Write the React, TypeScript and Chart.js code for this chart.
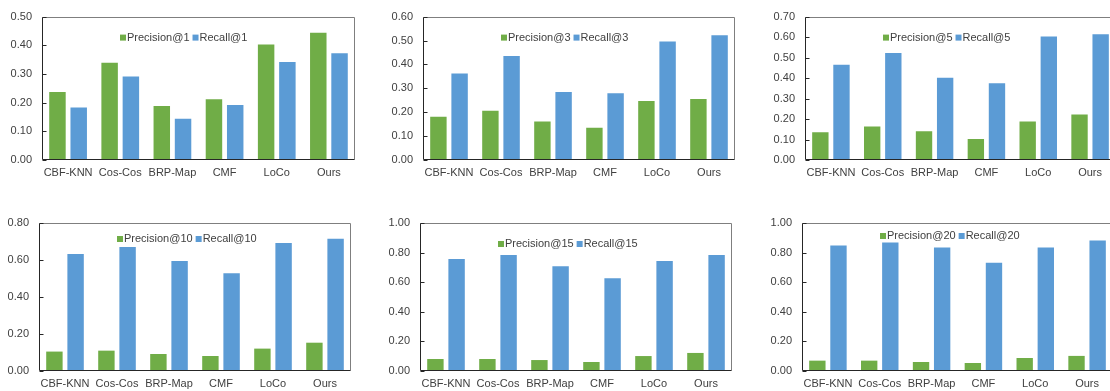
import React, { useEffect, useRef } from "react";
import { Chart, registerables } from "chart.js";

Chart.register(...registerables);

// ---------- data ----------
const categories = ["CBF-KNN", "Cos-Cos", "BRP-Map", "CMF", "LoCo", "Ours"];

const precisionAt1 = [0.237, 0.339, 0.188, 0.212, 0.403, 0.444];
const recallAt1 = [0.183, 0.291, 0.144, 0.192, 0.342, 0.372];

const precisionAt3 = [0.181, 0.206, 0.161, 0.135, 0.247, 0.255];
const recallAt3 = [0.362, 0.435, 0.284, 0.279, 0.496, 0.522];

const precisionAt5 = [0.136, 0.164, 0.14, 0.103, 0.188, 0.222];
const recallAt5 = [0.465, 0.522, 0.402, 0.375, 0.603, 0.614];

const precisionAt10 = [0.105, 0.11, 0.092, 0.081, 0.121, 0.153];
const recallAt10 = [0.632, 0.67, 0.595, 0.528, 0.692, 0.715];

const precisionAt15 = [0.081, 0.081, 0.074, 0.061, 0.101, 0.122];
const recallAt15 = [0.757, 0.784, 0.707, 0.626, 0.743, 0.784];

const precisionAt20 = [0.07, 0.07, 0.061, 0.054, 0.088, 0.102];
const recallAt20 = [0.848, 0.869, 0.835, 0.731, 0.835, 0.882];

const kLabels = ["1", "3", "5", "10", "15", "20"];
const yMaxes = [0.5, 0.6, 0.7, 0.8, 1.0, 1.0];
const ySteps = [0.1, 0.1, 0.1, 0.2, 0.2, 0.2];

const precisionSeries = [precisionAt1, precisionAt3, precisionAt5, precisionAt10, precisionAt15, precisionAt20];
const recallSeries = [recallAt1, recallAt3, recallAt5, recallAt10, recallAt15, recallAt20];

// ---------- layout (pixels) ----------
// canvas box (cx, cy, cw, ch), plot area (L, T, R, B), legend vertical offset from plot top
const panelLayout = [
  { cx: 0, cy: 0, cw: 370, ch: 195, L: 42, T: 12, R: 355, B: 160, legendDy: 21 },
  { cx: 370, cy: 0, cw: 370, ch: 195, L: 423, T: 12, R: 735, B: 160, legendDy: 21 },
  { cx: 740, cy: 0, cw: 380, ch: 195, L: 805, T: 12, R: 1116, B: 160, legendDy: 21 },
  { cx: 0, cy: 195, cw: 370, ch: 196, L: 39, T: 223, R: 351, B: 371, legendDy: 16 },
  { cx: 370, cy: 195, cw: 370, ch: 196, L: 420, T: 223, R: 732, B: 371, legendDy: 21 },
  { cx: 740, cy: 195, cw: 380, ch: 196, L: 802, T: 223, R: 1113, B: 371, legendDy: 13 },
];

const GREEN = "#70AD47";
const BLUE = "#5B9BD5";
const TEXT = "#404040";
const FONT_FAMILY = "'Liberation Sans', Arial, sans-serif";

const framePlugin = {
  id: "frame",
  afterDatasetsDraw(chart: any) {
    const { ctx, chartArea } = chart;
    const l = Math.round(chartArea.left) + 0.5;
    const r = Math.round(chartArea.right) - 0.5;
    const t = Math.round(chartArea.top) + 0.5;
    const b = Math.round(chartArea.bottom) - 0.5;
    ctx.save();
    ctx.lineWidth = 1;
    // top & right (grey)
    ctx.strokeStyle = "#7f7f7f";
    ctx.beginPath();
    ctx.moveTo(l, t);
    ctx.lineTo(r, t);
    ctx.lineTo(r, b);
    ctx.stroke();
    // left & bottom (dark)
    ctx.strokeStyle = "#262626";
    ctx.beginPath();
    ctx.moveTo(l, t);
    ctx.lineTo(l, b);
    ctx.lineTo(r, b);
    ctx.stroke();
    // inward tick marks on the y axis
    const ys = chart.scales.y;
    ys.ticks.forEach((tk: any) => {
      const py = Math.round(ys.getPixelForValue(tk.value)) + 0.5;
      ctx.beginPath();
      ctx.moveTo(l, py);
      ctx.lineTo(l + 4, py);
      ctx.stroke();
    });
    ctx.restore();
  },
};

const legendPlugin = {
  id: "innerLegend",
  afterDraw(chart: any, _args: any, opts: any) {
    const { ctx, chartArea } = chart;
    let x = chartArea.left + 78;
    const y = chartArea.top + (opts.dy ?? 21);
    ctx.save();
    ctx.font = `11px ${FONT_FAMILY}`;
    ctx.textBaseline = "middle";
    ctx.textAlign = "left";
    chart.data.datasets.forEach((ds: any) => {
      ctx.fillStyle = ds.backgroundColor;
      ctx.fillRect(x, y - 3, 6, 6);
      x += 7;
      ctx.fillStyle = TEXT;
      ctx.fillText(ds.label, x, y);
      x += ctx.measureText(ds.label).width + 3;
    });
    ctx.restore();
  },
};

function Panel({ index }: { index: number }) {
  const ref = useRef<HTMLCanvasElement | null>(null);
  const lay = panelLayout[index];
  useEffect(() => {
    if (!ref.current) return;
    const yAxisWidth = lay.L - lay.cx;
    const xAxisHeight = lay.cy + lay.ch - lay.B;
    const chart = new Chart(ref.current, {
      type: "bar",
      data: {
        labels: categories,
        datasets: [
          {
            label: `Precision@${kLabels[index]}`,
            data: precisionSeries[index],
            backgroundColor: GREEN,
            borderWidth: 0,
            categoryPercentage: 0.815,
            barPercentage: 0.775,
          },
          {
            label: `Recall@${kLabels[index]}`,
            data: recallSeries[index],
            backgroundColor: BLUE,
            borderWidth: 0,
            categoryPercentage: 0.815,
            barPercentage: 0.775,
          },
        ],
      },
      options: {
        responsive: false,
        animation: false,
        devicePixelRatio: 1,
        layout: {
          padding: {
            left: 0,
            top: lay.T - lay.cy,
            right: lay.cx + lay.cw - lay.R,
            bottom: 0,
          },
        },
        plugins: {
          legend: { display: false },
          tooltip: { enabled: false },
          innerLegend: { dy: lay.legendDy },
        } as any,
        scales: {
          x: {
            grid: { display: false, drawTicks: false },
            border: { display: false },
            ticks: {
              color: TEXT,
              font: { family: FONT_FAMILY, size: 11 },
              padding: 6,
              maxRotation: 0,
              autoSkip: false,
            },
            afterFit: (s: any) => {
              s.height = xAxisHeight;
            },
          },
          y: {
            min: 0,
            max: yMaxes[index],
            grid: { display: false, drawTicks: false },
            border: { display: false },
            ticks: {
              stepSize: ySteps[index],
              color: TEXT,
              font: { family: FONT_FAMILY, size: 11 },
              padding: 10,
              callback: (v: any) => Number(v).toFixed(2),
            },
            afterFit: (s: any) => {
              s.width = yAxisWidth;
            },
          },
        },
      },
      plugins: [framePlugin, legendPlugin],
    });
    return () => chart.destroy();
  }, [index]);
  return (
    <canvas
      ref={ref}
      width={lay.cw}
      height={lay.ch}
      style={{ position: "absolute", left: lay.cx, top: lay.cy, width: lay.cw, height: lay.ch }}
    />
  );
}

export default function App() {
  return (
    <div
      style={{
        position: "fixed",
        left: 0,
        top: 0,
        width: 1110,
        height: 391,
        overflow: "hidden",
        background: "#ffffff",
      }}
    >
      {panelLayout.map((_, i) => (
        <Panel key={i} index={i} />
      ))}
    </div>
  );
}
